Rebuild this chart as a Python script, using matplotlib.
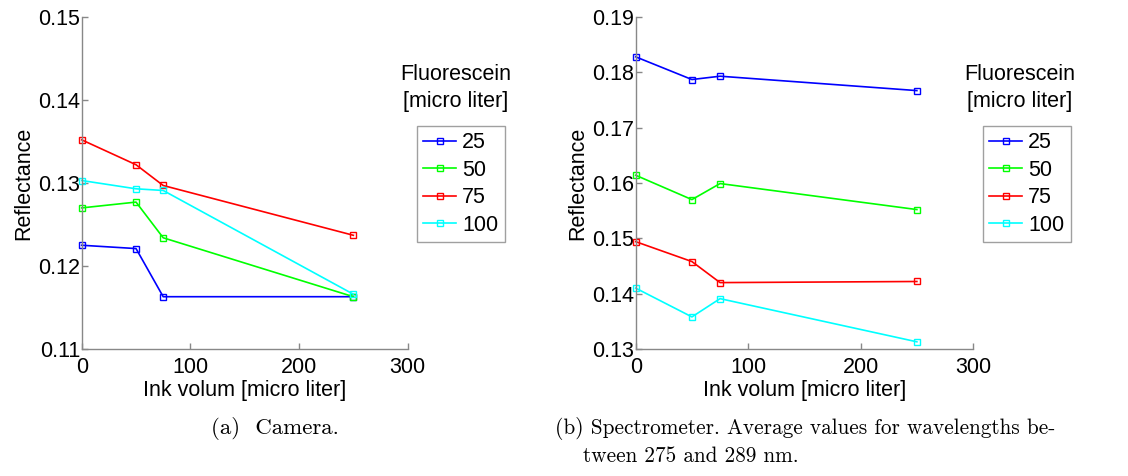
import matplotlib
matplotlib.use("Agg")
import matplotlib.pyplot as plt
from matplotlib.lines import Line2D

ink_volume = [0, 50, 75, 250]
fluorescein_labels = ["25", "50", "75", "100"]
series_colors = ["#0000ff", "#00ff00", "#ff0000", "#00ffff"]

camera_25 = [0.1225, 0.1221, 0.1163, 0.1163]
camera_50 = [0.1270, 0.1277, 0.1234, 0.1163]
camera_75 = [0.1352, 0.1322, 0.1297, 0.1237]
camera_100 = [0.1303, 0.1293, 0.1291, 0.1166]

spectro_25 = [0.1828, 0.1787, 0.1793, 0.1767]
spectro_50 = [0.1614, 0.1570, 0.1599, 0.1552]
spectro_75 = [0.1494, 0.1458, 0.1420, 0.1422]
spectro_100 = [0.1410, 0.1358, 0.1391, 0.1313]

camera_yticks = [0.11, 0.12, 0.13, 0.14, 0.15]
spectro_yticks = [0.13, 0.14, 0.15, 0.16, 0.17, 0.18, 0.19]
xticks = [0, 100, 200, 300]

W, H = 1128, 476
fig = plt.figure(figsize=(W / 100, H / 100), dpi=100)
SANS = ["Liberation Sans", "DejaVu Sans"]
SERIF = ["cmr10", "DejaVu Serif"]
TICK_FS = 15.5
LABEL_FS = 15.5

def px_rect(x0, x1, ytop, ybot):
    return [x0 / W, 1 - ybot / H, (x1 - x0) / W, (ybot - ytop) / H]

def setup(ax, yticks, ylim):
    ax.set_xlim(0, 300)
    ax.set_ylim(*ylim)
    ax.set_xticks(xticks)
    ax.set_yticks(yticks)
    ax.set_xticklabels([str(t) for t in xticks], fontfamily=SANS, fontsize=TICK_FS)
    ax.set_yticklabels([f"{t:.2f}" for t in yticks], fontfamily=SANS, fontsize=TICK_FS)
    for s in ["top", "right"]:
        ax.spines[s].set_visible(False)
    for s in ["left", "bottom"]:
        ax.spines[s].set_color("#888888")
        ax.spines[s].set_linewidth(1.0)
    ax.tick_params(direction="in", length=4, color="#888888", width=1.0)
    ax.tick_params(axis="y", pad=1)
    ax.tick_params(axis="x", pad=5.5)
    ax.set_xlabel("Ink volum [micro liter]", fontfamily=SANS, fontsize=LABEL_FS, labelpad=2)
    ax.set_ylabel("Reflectance", fontfamily=SANS, fontsize=LABEL_FS, labelpad=3)
    ax.patch.set_alpha(0)

def plot_series(ax, data):
    for vals, c in zip(data, series_colors):
        ax.plot(ink_volume, vals, color=c, lw=1.2, marker="s", ms=4.5,
                mfc="none", mec=c, mew=1.0, clip_on=False)

ax1 = fig.add_axes(px_rect(81.7, 407.7, 17, 349))
setup(ax1, camera_yticks, (0.11, 0.15))
plot_series(ax1, [camera_25, camera_50, camera_75, camera_100])

ax2 = fig.add_axes(px_rect(635.7, 973.1, 17, 349))
setup(ax2, spectro_yticks, (0.13, 0.19))
plot_series(ax2, [spectro_25, spectro_50, spectro_75, spectro_100])

handles = [Line2D([], [], color=c, lw=1.2, marker="s", ms=4.5, mfc="none", mec=c, mew=1.0)
           for c in series_colors]

for (bx, cx) in [(417, 456), (983, 1020)]:
    leg = fig.legend(handles, fluorescein_labels, loc="upper left",
                     bbox_to_anchor=(bx / W, 1 - 126 / H), bbox_transform=fig.transFigure,
                     borderaxespad=0, fancybox=False, frameon=True,
                     prop={"family": SANS, "size": TICK_FS}, handlelength=1.5,
                     handletextpad=0.3, labelspacing=0.3, borderpad=0.3)
    leg.get_frame().set_edgecolor("#888888")
    leg.get_frame().set_linewidth(1.0)
    fig.text(cx / W, 1 - 75 / H, "Fluorescein", ha="center", va="center",
             fontfamily=SANS, fontsize=TICK_FS)
    fig.text(cx / W, 1 - 101 / H, "[micro liter]", ha="center", va="center",
             fontfamily=SANS, fontsize=TICK_FS)

fig.text(275 / W, 1 - 428 / H, "(a)  Camera.", ha="center", va="center",
         fontfamily=SERIF, fontsize=16.5)
fig.text(555 / W, 1 - 428 / H, "(b) Spectrometer. Average values for wavelengths be-",
         ha="left", va="center", fontfamily=SERIF, fontsize=15.3)
fig.text(583 / W, 1 - 456 / H, "tween 275 and 289 nm.",
         ha="left", va="center", fontfamily=SERIF, fontsize=15.3)

fig.savefig("out.png", dpi=100)
